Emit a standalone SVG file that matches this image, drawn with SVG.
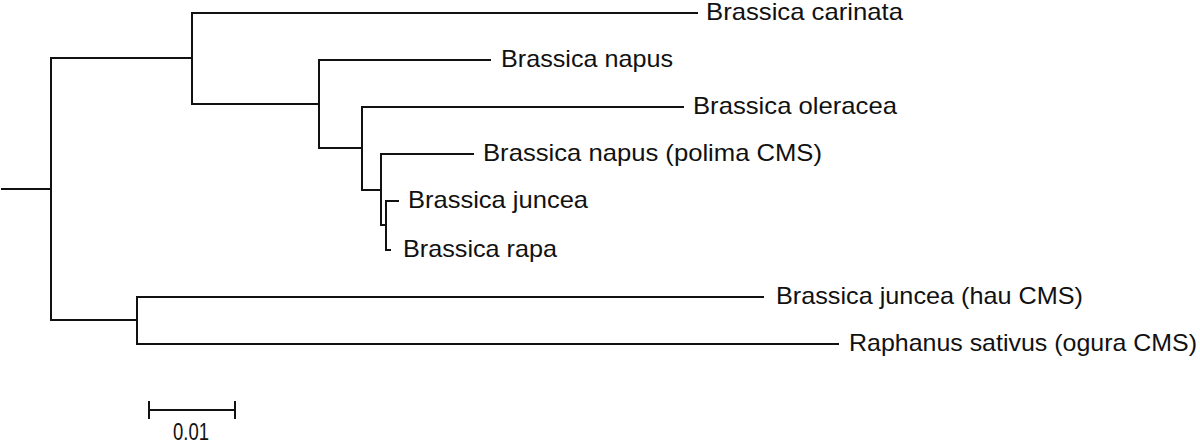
<svg xmlns="http://www.w3.org/2000/svg" width="1200" height="443" viewBox="0 0 1200 443">
<style>
.e{fill:none;stroke:#111;stroke-width:2;stroke-linecap:square;stroke-linejoin:miter}
.t{font-family:"Liberation Sans",Arial,sans-serif;font-size:24px;fill:#111}
</style>
<rect width="1200" height="443" fill="#fff"/>
<g id="connectors">
<path class="e" d="M2,189H51M51,58V320M51,58H192M192,13V104M192,13H697M192,104H319M319,60V148M319,60H490M319,148H362M362,107V190M362,107H683M362,190H381M381,154V225M381,154H473M381,225H386M386,201V250M386,201H398M386,250H390M51,320H137M137,297V344M137,297H763M137,344H838"/>
</g>
<g id="carinata"><text class="t" x="706" y="20" textLength="197" lengthAdjust="spacingAndGlyphs">Brassica carinata</text></g>
<g id="napus"><text class="t" x="501" y="67" textLength="172" lengthAdjust="spacingAndGlyphs">Brassica napus</text></g>
<g id="oleracea"><text class="t" x="693" y="114" textLength="204" lengthAdjust="spacingAndGlyphs">Brassica oleracea</text></g>
<g id="napus-polima"><text class="t" x="483" y="161" textLength="339" lengthAdjust="spacingAndGlyphs">Brassica napus (polima CMS)</text></g>
<g id="juncea"><text class="t" x="408" y="208" textLength="180" lengthAdjust="spacingAndGlyphs">Brassica juncea</text></g>
<g id="rapa"><text class="t" x="403" y="257" textLength="154" lengthAdjust="spacingAndGlyphs">Brassica rapa</text></g>
<g id="juncea-hau"><text class="t" x="776" y="304" textLength="307" lengthAdjust="spacingAndGlyphs">Brassica juncea (hau CMS)</text></g>
<g id="raphanus-ogura"><text class="t" x="849" y="351" textLength="348" lengthAdjust="spacingAndGlyphs">Raphanus sativus (ogura CMS)</text></g>
<g id="scale-bar">
<path class="e" d="M149,410H235M149,402V418M235,402V418"/>
<text class="t" x="173" y="440" textLength="36" lengthAdjust="spacingAndGlyphs">0.01</text>
</g>
</svg>
